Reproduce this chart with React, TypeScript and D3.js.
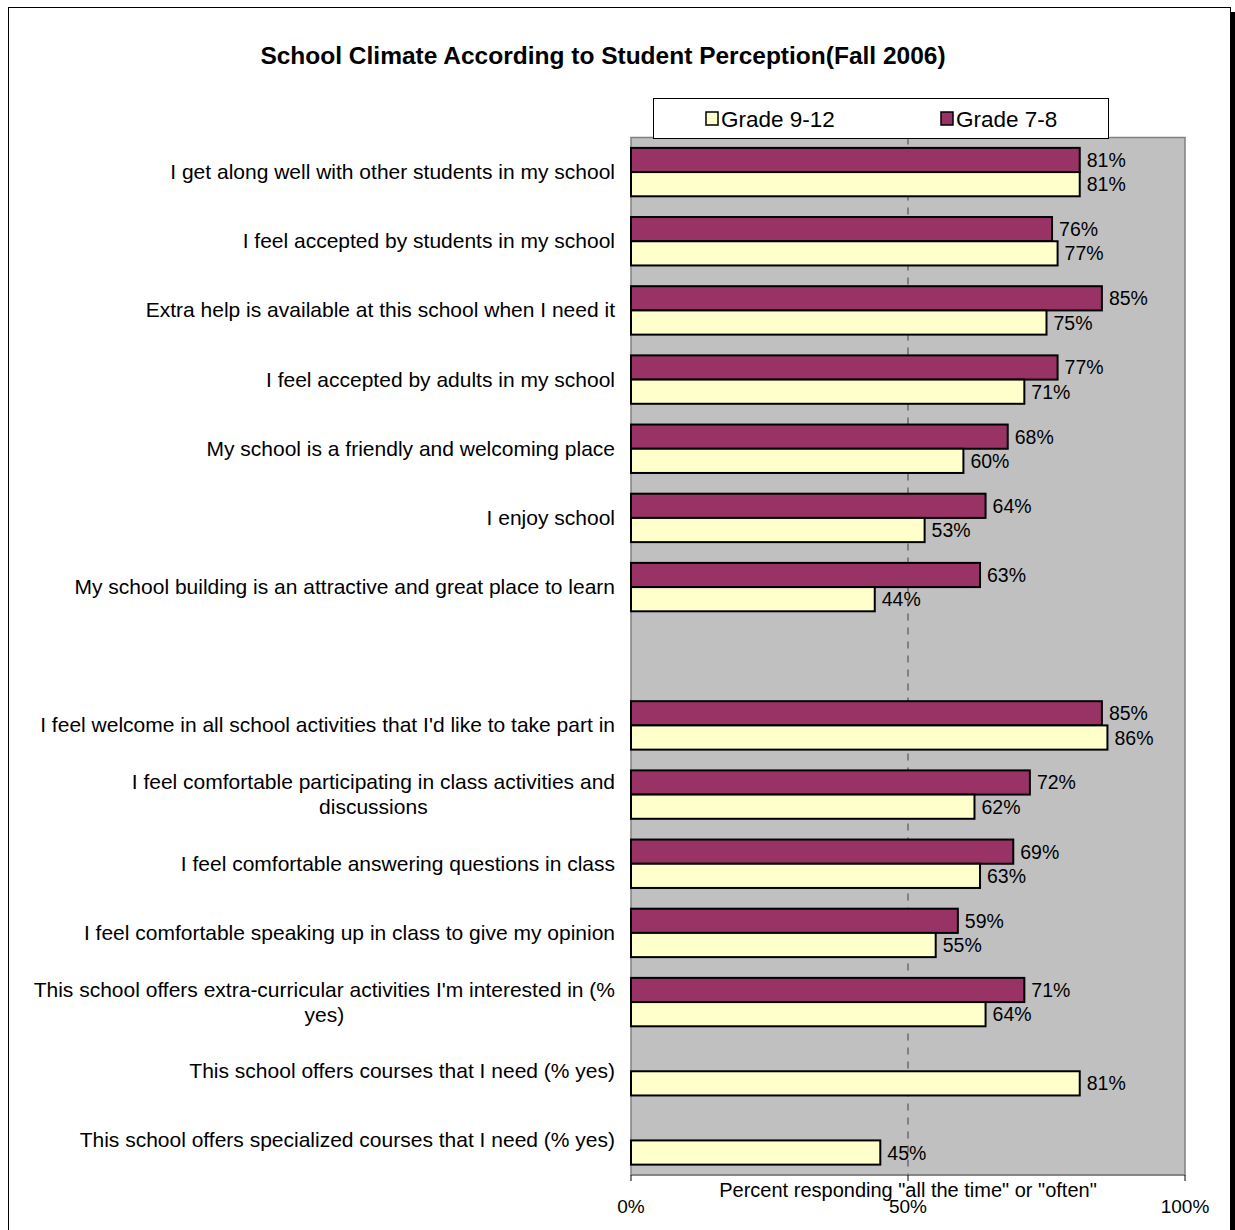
import React from "react";
import * as d3 from "d3";

const categories: string[] = [
  "I get along well with other students in my school",
  "I feel accepted by students in my school",
  "Extra help is available at this school when I need it",
  "I feel accepted by adults in my school",
  "My school is a friendly and welcoming place",
  "I enjoy school",
  "My school building is an attractive and great place to learn",
  "",
  "I feel welcome in all school activities that I'd like to take part in",
  "I feel comfortable participating in class activities and|discussions",
  "I feel comfortable answering questions in class",
  "I feel comfortable speaking up in class to give my opinion",
  "This school offers extra-curricular activities I'm interested in (%|yes)",
  "This school offers courses that I need (% yes)",
  "This school offers specialized courses that I need (% yes)",
];

const grade78: (number | null)[] = [81, 76, 85, 77, 68, 64, 63, null, 85, 72, 69, 59, 71, null, null];
const grade912: (number | null)[] = [81, 77, 75, 71, 60, 53, 44, null, 86, 62, 63, 55, 64, 81, 45];

const seriesNames = ["Grade 7-8", "Grade 9-12"];
const seriesColors = ["#993366", "#FFFFCC"];
const xTicks = [0, 50, 100];

const W = 1235;
const H = 1230;
const FONT = "'Liberation Sans', Arial, sans-serif";
const LABEL_SIZE = 21;

function measure(t: string, size: number): number {
  try {
    const c = document.createElement("canvas");
    const ctx = c.getContext("2d");
    if (!ctx) return t.length * size * 0.5;
    ctx.font = `${size}px 'Liberation Sans'`;
    return ctx.measureText(t).width;
  } catch {
    return t.length * size * 0.5;
  }
}

export default function App() {
  const plotL = 631, plotR = 1185, plotT = 137.5, plotB = 1175;
  const x = d3.scaleLinear().domain([0, 100]).range([plotL, plotR]);
  const idx = categories.map((_, i) => String(i));
  const y = d3.scaleBand<string>().domain(idx).range([plotT, plotB]).paddingInner(0.3).paddingOuter(0.15);
  const inner = d3.scaleBand<string>().domain(seriesNames).range([0, y.bandwidth()]);
  const series = [grade78, grade912];
  const labelR = 615;

  return (
    <svg width={W} height={H} style={{ position: "absolute", left: 0, top: 0, background: "#fff" }} fontFamily={FONT}>
      {/* outer frame */}
      <rect x={1231} y={12} width={4} height={H} fill="#000" />
      <rect x={8.5} y={7.5} width={1222} height={H + 10} fill="#fff" stroke="#000" strokeWidth={1} />
      <text x={603} y={64} textAnchor="middle" fontSize={24.5} fontWeight="bold">
        School Climate According to Student Perception(Fall 2006)
      </text>

      {/* plot area */}
      <rect x={plotL} y={plotT} width={plotR - plotL} height={plotB - plotT} fill="#C0C0C0" stroke="#808080" strokeWidth={1.5} />
      {xTicks.filter((t) => t > 0 && t < 100).map((t) => (
        <line key={t} x1={x(t)} x2={x(t)} y1={plotT} y2={plotB} stroke="#555" strokeWidth={1.2} strokeDasharray="7,7" />
      ))}

      {/* bars */}
      {categories.map((c, i) =>
        series.map((s, si) => {
          const v = s[i];
          if (v == null) return null;
          const by = (y(String(i)) as number) + (inner(seriesNames[si]) as number);
          const bh = inner.bandwidth();
          return (
            <g key={`${i}-${si}`}>
              <rect x={x(0)} y={by} width={x(v) - x(0)} height={bh} fill={seriesColors[si]} stroke="#000" strokeWidth={2} />
              <text x={x(v) + 7} y={by + bh / 2 + 7} fontSize={19.5} fill="#000">{`${v}%`}</text>
            </g>
          );
        })
      )}

      {/* category labels */}
      {categories.map((c, i) => {
        if (!c) return null;
        const lines = c.split("|");
        const cy = (y(String(i)) as number) + y.bandwidth() / 2;
        const lh = 25;
        const startY = cy - ((lines.length - 1) * lh) / 2 + 7;
        const maxW = Math.max(...lines.map((l) => measure(l, LABEL_SIZE)));
        const center = labelR - maxW / 2;
        return (
          <text key={i} fontSize={LABEL_SIZE} fill="#000" textAnchor={lines.length > 1 ? "middle" : "end"}>
            {lines.map((l, li) => (
              <tspan key={li} x={lines.length > 1 ? center : labelR} y={startY + li * lh}>{l}</tspan>
            ))}
          </text>
        );
      })}

      {/* x axis */}
      <line x1={plotL} x2={plotR} y1={plotB} y2={plotB} stroke="#808080" strokeWidth={1.5} />
      {xTicks.map((t) => (
        <g key={t}>
          <line x1={x(t)} x2={x(t)} y1={plotB} y2={plotB + 6} stroke="#000" strokeWidth={1} />
          <text x={x(t)} y={1213} textAnchor="middle" fontSize={19}>{`${t}%`}</text>
        </g>
      ))}
      <text x={908} y={1197} textAnchor="middle" fontSize={20}>Percent responding "all the time" or "often"</text>

      {/* legend */}
      <rect x={653.5} y={98.5} width={455} height={40} fill="#fff" stroke="#000" strokeWidth={1} />
      {[seriesNames[1], seriesNames[0]].map((n, li) => {
        const lx = li === 0 ? 706 : 941;
        return (
          <g key={n}>
            <rect x={lx} y={112} width={12} height={13} fill={seriesColors[seriesNames.indexOf(n)]} stroke="#000" strokeWidth={1.5} />
            <text x={lx + 15} y={127} fontSize={22.5}>{n}</text>
          </g>
        );
      })}
    </svg>
  );
}
